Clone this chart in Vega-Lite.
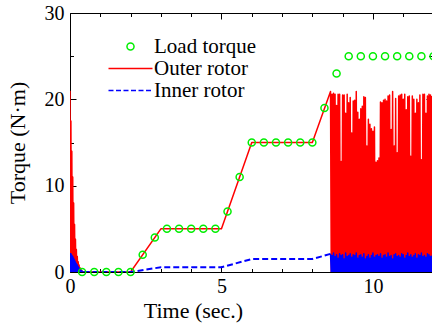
{
  "$schema": "https://vega.github.io/schema/vega-lite/v6.json",
  "width": 362,
  "height": 259,
  "autosize": {"type": "none"},
  "padding": {"left": 70, "top": 13, "right": 0, "bottom": 56},
  "background": "white",
  "config": {
    "view": {"stroke": null},
    "font": "Liberation Serif",
    "axis": {"grid": false, "domainColor": "black", "tickColor": "black", "labelColor": "black", "titleColor": "black", "labelFont": "Liberation Serif", "titleFont": "Liberation Serif", "labelFontSize": 20, "titleFontSize": 22, "titleFontWeight": "normal", "labelFlush": false, "labelOverlap": false, "domainWidth": 1, "tickWidth": 1}
  },
  "datasets": {
    "rotor": [
      {"t": 0, "outer": 21, "inner": 2.2},
      {"t": 0.015, "outer": 0, "inner": 0},
      {"t": 0.03, "outer": 17.5, "inner": 2.1},
      {"t": 0.045, "outer": 0, "inner": 0},
      {"t": 0.06, "outer": 14, "inner": 1.95},
      {"t": 0.075, "outer": 0, "inner": 0},
      {"t": 0.09, "outer": 11, "inner": 1.8},
      {"t": 0.105, "outer": 0, "inner": 0},
      {"t": 0.12, "outer": 8, "inner": 1.6},
      {"t": 0.135, "outer": 0, "inner": 0},
      {"t": 0.15, "outer": 5.5, "inner": 1.4},
      {"t": 0.165, "outer": 0, "inner": 0},
      {"t": 0.18, "outer": 3.8, "inner": 1.15},
      {"t": 0.195, "outer": 0, "inner": 0},
      {"t": 0.21, "outer": 2.6, "inner": 0.95},
      {"t": 0.225, "outer": 0, "inner": 0},
      {"t": 0.24, "outer": 1.8, "inner": 0.8},
      {"t": 0.255, "outer": 0, "inner": 0},
      {"t": 0.27, "outer": 1.2, "inner": 0.6},
      {"t": 0.285, "outer": 0, "inner": 0},
      {"t": 0.3, "outer": 0.8, "inner": 0.45},
      {"t": 0.315, "outer": 0, "inner": 0},
      {"t": 0.33, "outer": 0.5, "inner": 0.3},
      {"t": 0.345, "outer": 0, "inner": 0},
      {"t": 0.36, "outer": 0.3, "inner": 0.2},
      {"t": 0.375, "outer": 0, "inner": 0},
      {"t": 0.39, "outer": 0.15, "inner": 0.1},
      {"t": 0.405, "outer": 0, "inner": 0},
      {"t": 0.42, "outer": 0.05, "inner": 0.05},
      {"t": 0.435, "outer": 0, "inner": 0},
      {"t": 0.45, "outer": 0, "inner": 0},
      {"t": 2.0, "outer": 0, "inner": 0},
      {"t": 3.0, "outer": 5, "inner": 0.55},
      {"t": 5.0, "outer": 5, "inner": 0.55},
      {"t": 6.0, "outer": 15, "inner": 1.5},
      {"t": 8.0, "outer": 15, "inner": 1.5},
      {"t": 8.6, "outer": 20.9, "inner": 2.1},
      {"t": 8.625, "outer": 0, "inner": 0},
      {"t": 8.65, "outer": 20.6, "inner": 1.9},
      {"t": 8.675, "outer": 0, "inner": 0},
      {"t": 8.7, "outer": 20.7, "inner": 2.2},
      {"t": 8.725, "outer": 0, "inner": 0},
      {"t": 8.75, "outer": 20.6, "inner": 1.8},
      {"t": 8.775, "outer": 0, "inner": 0},
      {"t": 8.8, "outer": 19.3, "inner": 2.0},
      {"t": 8.825, "outer": 0, "inner": 0},
      {"t": 8.85, "outer": 20.6, "inner": 1.6},
      {"t": 8.875, "outer": 0, "inner": 0},
      {"t": 8.9, "outer": 20.6, "inner": 2.1},
      {"t": 8.925, "outer": 0, "inner": 0},
      {"t": 8.95, "outer": 12.8, "inner": 1.9},
      {"t": 8.975, "outer": 0, "inner": 0},
      {"t": 9.0, "outer": 20.5, "inner": 2.0},
      {"t": 9.025, "outer": 0, "inner": 0},
      {"t": 9.05, "outer": 20.5, "inner": 1.5},
      {"t": 9.075, "outer": 0, "inner": 0},
      {"t": 9.1, "outer": 18.4, "inner": 2.2},
      {"t": 9.125, "outer": 0, "inner": 0},
      {"t": 9.15, "outer": 20.6, "inner": 1.8},
      {"t": 9.175, "outer": 0, "inner": 0},
      {"t": 9.2, "outer": 19.6, "inner": 1.9},
      {"t": 9.225, "outer": 0, "inner": 0},
      {"t": 9.25, "outer": 20.2, "inner": 2.1},
      {"t": 9.275, "outer": 0, "inner": 0},
      {"t": 9.3, "outer": 16.1, "inner": 1.7},
      {"t": 9.325, "outer": 0, "inner": 0},
      {"t": 9.35, "outer": 19.8, "inner": 2.0},
      {"t": 9.375, "outer": 0, "inner": 0},
      {"t": 9.4, "outer": 19.9, "inner": 1.9},
      {"t": 9.425, "outer": 0, "inner": 0},
      {"t": 9.45, "outer": 20.9, "inner": 2.2},
      {"t": 9.475, "outer": 0, "inner": 0},
      {"t": 9.5, "outer": 18.5, "inner": 1.6},
      {"t": 9.525, "outer": 0, "inner": 0},
      {"t": 9.55, "outer": 17.7, "inner": 1.9},
      {"t": 9.575, "outer": 0, "inner": 0},
      {"t": 9.6, "outer": 18.9, "inner": 2.0},
      {"t": 9.625, "outer": 0, "inner": 0},
      {"t": 9.65, "outer": 19.2, "inner": 1.7},
      {"t": 9.675, "outer": 0, "inner": 0},
      {"t": 9.7, "outer": 20.3, "inner": 2.1},
      {"t": 9.725, "outer": 0, "inner": 0},
      {"t": 9.75, "outer": 20.2, "inner": 1.5},
      {"t": 9.775, "outer": 0, "inner": 0},
      {"t": 9.8, "outer": 14.6, "inner": 1.8},
      {"t": 9.825, "outer": 0, "inner": 0},
      {"t": 9.85, "outer": 17.7, "inner": 2.0},
      {"t": 9.875, "outer": 0, "inner": 0},
      {"t": 9.9, "outer": 17.1, "inner": 1.6},
      {"t": 9.925, "outer": 0, "inner": 0},
      {"t": 9.95, "outer": 16.6, "inner": 1.9},
      {"t": 9.975, "outer": 0, "inner": 0},
      {"t": 10.0, "outer": 16.3, "inner": 2.2},
      {"t": 10.025, "outer": 0, "inner": 0},
      {"t": 10.05, "outer": 16.8, "inner": 1.7},
      {"t": 10.075, "outer": 0, "inner": 0},
      {"t": 10.1, "outer": 12.7, "inner": 1.9},
      {"t": 10.125, "outer": 0, "inner": 0},
      {"t": 10.15, "outer": 12.9, "inner": 2.0},
      {"t": 10.175, "outer": 0, "inner": 0},
      {"t": 10.2, "outer": 13.2, "inner": 1.8},
      {"t": 10.225, "outer": 0, "inner": 0},
      {"t": 10.25, "outer": 19.7, "inner": 2.1},
      {"t": 10.275, "outer": 0, "inner": 0},
      {"t": 10.3, "outer": 19.6, "inner": 1.6},
      {"t": 10.325, "outer": 0, "inner": 0},
      {"t": 10.35, "outer": 19.9, "inner": 1.9},
      {"t": 10.375, "outer": 0, "inner": 0},
      {"t": 10.4, "outer": 20.0, "inner": 2.0},
      {"t": 10.425, "outer": 0, "inner": 0},
      {"t": 10.45, "outer": 19.8, "inner": 1.7},
      {"t": 10.475, "outer": 0, "inner": 0},
      {"t": 10.5, "outer": 20.4, "inner": 2.2},
      {"t": 10.525, "outer": 0, "inner": 0},
      {"t": 10.55, "outer": 20.5, "inner": 1.8},
      {"t": 10.575, "outer": 0, "inner": 0},
      {"t": 10.6, "outer": 16.5, "inner": 1.9},
      {"t": 10.625, "outer": 0, "inner": 0},
      {"t": 10.65, "outer": 20.9, "inner": 1.5},
      {"t": 10.675, "outer": 0, "inner": 0},
      {"t": 10.7, "outer": 14.6, "inner": 2.0},
      {"t": 10.725, "outer": 0, "inner": 0},
      {"t": 10.75, "outer": 20.1, "inner": 2.1},
      {"t": 10.775, "outer": 0, "inner": 0},
      {"t": 10.8, "outer": 13.8, "inner": 1.8},
      {"t": 10.825, "outer": 0, "inner": 0},
      {"t": 10.85, "outer": 20.4, "inner": 1.9},
      {"t": 10.875, "outer": 0, "inner": 0},
      {"t": 10.9, "outer": 20.5, "inner": 1.7},
      {"t": 10.925, "outer": 0, "inner": 0},
      {"t": 10.95, "outer": 20.6, "inner": 2.1},
      {"t": 10.975, "outer": 0, "inner": 0},
      {"t": 11.0, "outer": 20.0, "inner": 2.0},
      {"t": 11.025, "outer": 0, "inner": 0},
      {"t": 11.05, "outer": 20.6, "inner": 1.6},
      {"t": 11.075, "outer": 0, "inner": 0},
      {"t": 11.1, "outer": 18.8, "inner": 1.9},
      {"t": 11.125, "outer": 0, "inner": 0},
      {"t": 11.15, "outer": 20.3, "inner": 2.2},
      {"t": 11.175, "outer": 0, "inner": 0},
      {"t": 11.2, "outer": 20.4, "inner": 1.8},
      {"t": 11.225, "outer": 0, "inner": 0},
      {"t": 11.25, "outer": 13.4, "inner": 2.0},
      {"t": 11.275, "outer": 0, "inner": 0},
      {"t": 11.3, "outer": 20.4, "inner": 1.7},
      {"t": 11.325, "outer": 0, "inner": 0},
      {"t": 11.35, "outer": 20.0, "inner": 1.9},
      {"t": 11.375, "outer": 0, "inner": 0},
      {"t": 11.4, "outer": 18.4, "inner": 2.1},
      {"t": 11.425, "outer": 0, "inner": 0},
      {"t": 11.45, "outer": 20.0, "inner": 1.6},
      {"t": 11.475, "outer": 0, "inner": 0},
      {"t": 11.5, "outer": 19.6, "inner": 2.0},
      {"t": 11.525, "outer": 0, "inner": 0},
      {"t": 11.55, "outer": 20.5, "inner": 1.9},
      {"t": 11.575, "outer": 0, "inner": 0},
      {"t": 11.6, "outer": 13.0, "inner": 2.2},
      {"t": 11.625, "outer": 0, "inner": 0},
      {"t": 11.65, "outer": 20.6, "inner": 1.8},
      {"t": 11.675, "outer": 0, "inner": 0},
      {"t": 11.7, "outer": 20.6, "inner": 1.9},
      {"t": 11.725, "outer": 0, "inner": 0},
      {"t": 11.75, "outer": 18.4, "inner": 1.7},
      {"t": 11.775, "outer": 0, "inner": 0},
      {"t": 11.8, "outer": 20.4, "inner": 2.1},
      {"t": 11.825, "outer": 0, "inner": 0},
      {"t": 11.85, "outer": 20.6, "inner": 2.0},
      {"t": 11.875, "outer": 0, "inner": 0},
      {"t": 11.9, "outer": 20.5, "inner": 1.8},
      {"t": 11.925, "outer": 0, "inner": 0},
      {"t": 11.95, "outer": 20.4, "inner": 1.9}
    ],
    "load": [
      {"t": 0.4, "torque": 0}, {"t": 0.8, "torque": 0}, {"t": 1.2, "torque": 0}, {"t": 1.6, "torque": 0}, {"t": 2.0, "torque": 0},
      {"t": 2.4, "torque": 2}, {"t": 2.8, "torque": 4}, {"t": 3.2, "torque": 5}, {"t": 3.6, "torque": 5}, {"t": 4.0, "torque": 5},
      {"t": 4.4, "torque": 5}, {"t": 4.8, "torque": 5}, {"t": 5.2, "torque": 7}, {"t": 5.6, "torque": 11}, {"t": 6.0, "torque": 15},
      {"t": 6.4, "torque": 15}, {"t": 6.8, "torque": 15}, {"t": 7.2, "torque": 15}, {"t": 7.6, "torque": 15}, {"t": 8.0, "torque": 15},
      {"t": 8.4, "torque": 19}, {"t": 8.8, "torque": 23}, {"t": 9.2, "torque": 25}, {"t": 9.6, "torque": 25}, {"t": 10.0, "torque": 25},
      {"t": 10.4, "torque": 25}, {"t": 10.8, "torque": 25}, {"t": 11.2, "torque": 25}, {"t": 11.6, "torque": 25}, {"t": 12.0, "torque": 25}
    ]
  },
  "resolve": {"axis": {"x": "independent", "y": "independent"}},
  "layer": [
    {
      "data": {"name": "rotor"},
      "mark": {"type": "line", "strokeWidth": 1.5, "strokeJoin": "round", "clip": true},
      "encoding": {
        "x": {"field": "t", "type": "quantitative", "scale": {"domain": [0, 11.95], "nice": false, "zero": false},
          "axis": {"orient": "bottom", "values": [0, 1, 2, 3, 4, 5, 6, 7, 8, 9, 10, 11], "labelExpr": "datum.value % 5 === 0 ? datum.label : ''",
            "tickSize": {"condition": {"test": "datum.value % 5 === 0", "value": -6}, "value": -3.5},
            "labelPadding": 10, "title": "Time (sec.)", "titleX": 123, "titleY": 45, "titleBaseline": "alphabetic", "titleAlign": "center", "titleAnchor": "start"}},
        "y": {"field": "outer", "type": "quantitative", "scale": {"domain": [0, 30], "nice": false},
          "axis": {"orient": "left", "values": [0, 5, 10, 15, 20, 25, 30], "labelExpr": "datum.value % 10 === 0 ? datum.label : ''",
            "tickSize": {"condition": {"test": "datum.value % 10 === 0", "value": -6}, "value": -3.5},
            "labelPadding": 12, "title": "Torque (N·m)", "titleX": -45.5, "titleY": 129.5, "titleAngle": 270, "titleBaseline": "alphabetic", "titleAlign": "center", "titleAnchor": "start"}},
        "color": {"datum": "Outer rotor", "type": "nominal",
          "scale": {"domain": ["Load torque", "Outer rotor", "Inner rotor"], "range": ["#00ee00", "#ff0000", "#0000ff"]},
          "legend": {"orient": "none", "legendX": 50, "legendY": 23, "title": null, "symbolSize": 100, "symbolStrokeWidth": 1.5,
            "labelFont": "Liberation Serif", "labelFontSize": 21, "labelColor": "black", "labelOffset": 13, "rowPadding": 0, "padding": 0,
            "encode": {"symbols": {"update": {
              "shape": {"signal": "datum.value === 'Load torque' ? 'circle' : 'M-4.4,0H4.4'"},
              "size": {"signal": "datum.value === 'Load torque' ? 50 : 100"},
              "strokeDash": {"signal": "datum.value === 'Inner rotor' ? [5, 2.5] : [100, 0]"},
              "fill": {"value": "transparent"},
              "stroke": {"signal": "scale('color', datum.value)"},
              "strokeWidth": {"value": 1.5},
              "opacity": {"value": 1}
            }}}}}
      }
    },
    {
      "data": {"name": "rotor"},
      "transform": [{"filter": "datum.t >= 0.45 && datum.t <= 8.6"}],
      "mark": {"type": "line", "strokeWidth": 2, "strokeDash": [6, 3], "clip": true},
      "encoding": {
        "x": {"field": "t", "type": "quantitative", "scale": {"domain": [0, 11.95], "nice": false, "zero": false},
          "axis": {"orient": "top", "values": [0, 1, 2, 3, 4, 5, 6, 7, 8, 9, 10, 11], "labels": false, "title": null,
            "tickSize": {"condition": {"test": "datum.value % 5 === 0", "value": -6}, "value": -3.5}}},
        "y": {"field": "inner", "type": "quantitative", "scale": {"domain": [0, 30], "nice": false},
          "axis": {"orient": "right", "values": [0, 5, 10, 15, 20, 25, 30], "labels": false, "title": null,
            "tickSize": {"condition": {"test": "datum.value % 10 === 0", "value": -6}, "value": -3.5}}},
        "color": {"datum": "Inner rotor", "type": "nominal"}
      }
    },
    {
      "data": {"name": "rotor"},
      "transform": [{"filter": "datum.t <= 0.45"}],
      "mark": {"type": "line", "strokeWidth": 1.5, "strokeJoin": "round", "color": "#0000ff", "clip": true},
      "encoding": {
        "x": {"field": "t", "type": "quantitative", "axis": null},
        "y": {"field": "inner", "type": "quantitative", "axis": null}
      }
    },
    {
      "data": {"name": "rotor"},
      "transform": [{"filter": "datum.t >= 8.6"}],
      "mark": {"type": "line", "strokeWidth": 1.5, "strokeJoin": "round", "color": "#0000ff", "clip": true},
      "encoding": {
        "x": {"field": "t", "type": "quantitative", "axis": null},
        "y": {"field": "inner", "type": "quantitative", "axis": null}
      }
    },
    {
      "data": {"name": "load"},
      "mark": {"type": "point", "filled": false, "size": 50, "strokeWidth": 1.5, "opacity": 1},
      "encoding": {
        "x": {"field": "t", "type": "quantitative", "axis": null},
        "y": {"field": "torque", "type": "quantitative", "axis": null},
        "color": {"datum": "Load torque", "type": "nominal"}
      }
    }
  ]
}
